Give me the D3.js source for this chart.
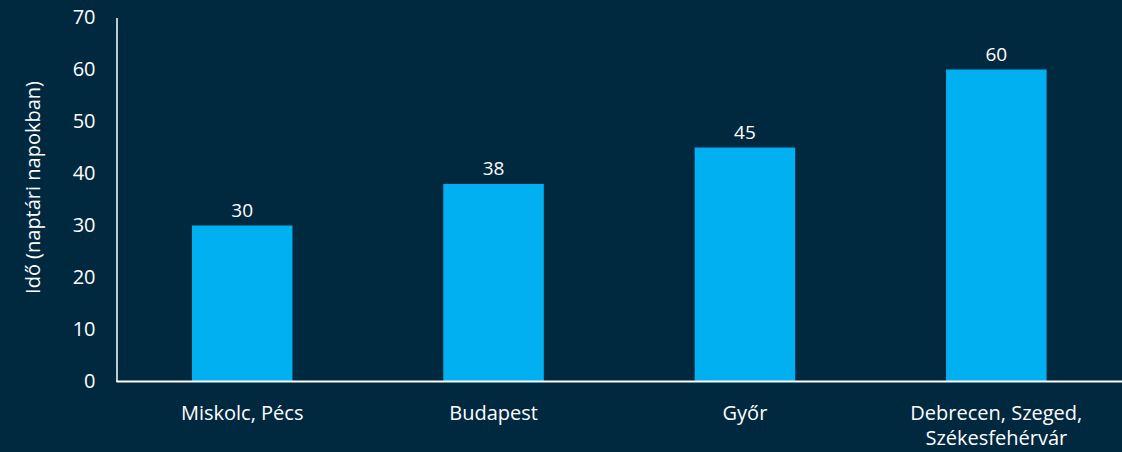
<!DOCTYPE html>
<html>
<head>
<meta charset="utf-8">
<script src="https://cdn.jsdelivr.net/npm/d3@7"></script>
<style>
  html, body { margin: 0; padding: 0; background: #00283f; }
  svg { display: block; }
  text { font-family: "Open Sans", "Noto Sans", sans-serif; fill: #ffffff; }
</style>
</head>
<body>
<svg id="chart" width="1122" height="452"></svg>
<script>
// Processing time per city group (calendar days)
const categories = [
  ["Miskolc, Pécs"],
  ["Budapest"],
  ["Győr"],
  ["Debrecen, Szeged,", "Székesfehérvár"]
];
const values = [30, 38, 45, 60];
const yTicks = [0, 10, 20, 30, 40, 50, 60, 70];
const yTitle = "Idő (naptári napokban)";

const W = 1122, H = 452;
const margin = { left: 116.5, right: 0, top: 17.5, bottom: 70.5 };

const svg = d3.select("#chart");

const keys = categories.map(c => c.join(" "));

const x = d3.scaleBand()
  .domain(keys)
  .range([margin.left, W - margin.right])
  .paddingInner(0.6)
  .paddingOuter(0.3);

const y = d3.scaleLinear()
  .domain([0, 70])
  .range([H - margin.bottom, margin.top]);

// Bars
svg.append("g")
  .selectAll("rect")
  .data(values)
  .join("rect")
  .attr("x", (d, i) => x(keys[i]))
  .attr("y", d => y(d))
  .attr("width", x.bandwidth())
  .attr("height", d => y(0) - y(d))
  .attr("fill", "#00b0f0");

// Value labels
svg.append("g")
  .selectAll("text")
  .data(values)
  .join("text")
  .attr("x", (d, i) => x(keys[i]) + x.bandwidth() / 2)
  .attr("y", d => y(d) - 9)
  .attr("text-anchor", "middle")
  .style("font-size", "19px")
  .text(d => d);

// Y axis
const yAxis = svg.append("g")
  .attr("transform", `translate(${margin.left},0)`)
  .call(d3.axisLeft(y).tickValues(yTicks).tickSize(0).tickPadding(21));
yAxis.select(".domain").attr("stroke", "#ffffff").attr("stroke-width", 1.5);
yAxis.selectAll("text").style("font-size", "20px").attr("fill", "#ffffff");

// X axis
const xAxis = svg.append("g")
  .attr("transform", `translate(0,${y(0)})`)
  .call(d3.axisBottom(x).tickSize(0).tickFormat(() => ""));
xAxis.select(".domain")
  .attr("d", `M${margin.left},0H${W}`)
  .attr("stroke", "#ffffff").attr("stroke-width", 2);

// Category labels (multi-line)
const catG = svg.append("g");
categories.forEach((lines, i) => {
  const t = catG.append("text")
    .attr("x", x(keys[i]) + x.bandwidth() / 2)
    .attr("y", y(0) + 38)
    .attr("text-anchor", "middle")
    .style("font-size", "20px");
  lines.forEach((ln, j) => {
    t.append("tspan")
      .attr("x", x(keys[i]) + x.bandwidth() / 2)
      .attr("dy", j === 0 ? 0 : 25)
      .text(ln);
  });
});

// Y axis title
svg.append("text")
  .attr("transform", `translate(40,${(y(0) + y(70)) / 2 - 12}) rotate(-90)`)
  .attr("text-anchor", "middle")
  .style("font-size", "20px")
  .text(yTitle);
</script>
</body>
</html>
